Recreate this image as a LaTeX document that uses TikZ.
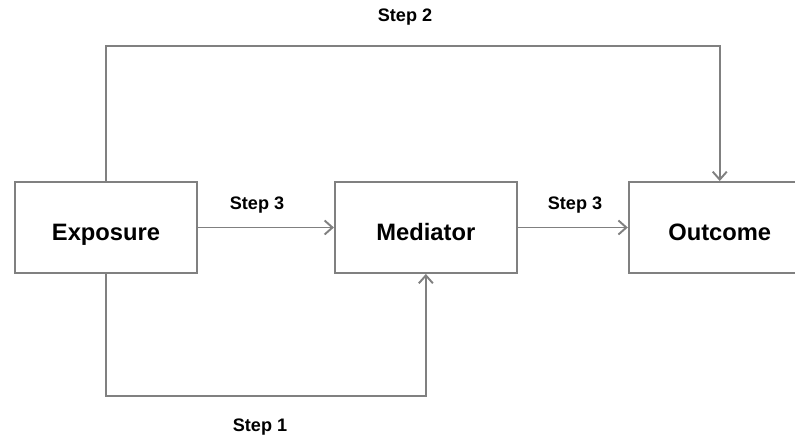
\documentclass[tikz,border=0pt]{standalone}
\usepackage{fontspec}
\setmainfont{Liberation Sans}
\usetikzlibrary{positioning,arrows.meta}

\definecolor{linegray}{HTML}{808080}

\begin{document}
\begin{tikzpicture}[x=0.02cm, y=-0.02cm,
    box/.style={draw=linegray, line width=1.1pt, minimum width=3.64cm, minimum height=1.82cm, inner sep=0pt, text height=14.8pt, text depth=0pt, font=\fontsize{13.5}{15}\selectfont\bfseries},
    steplabel/.style={font=\fontsize{10.3}{12}\selectfont\bfseries},
    link/.style={draw=linegray, line width=1.1pt, -{Straight Barb[length=4.5pt,width=8pt]}}]
    \clip (0,0) rectangle (795,438);
    \node (E) [box] at (106,227.5) {Exposure};
    \node (M) [box, right=2.72cm of E] {Mediator};
    \node (O) [box, right=2.20cm of M] {Outcome};
    % path corners
    \coordinate (top) at (405,46);
    \coordinate (bot) at (260,396);
    % step labels
    \node (s2) [steplabel] at (405,17) {Step 2};
    \node (s3a) [steplabel] at (257,205) {Step 3};
    \node (s3b) [steplabel] at (575,205) {Step 3};
    \node (s1) [steplabel] at (260,427) {Step 1};
    % connectors
    \draw[link] (E.north) |- (top) -| (O.north);
    \draw[link] (E.south) |- (bot) -| (M.south);
    \draw[link] (E) -- (M);
    \draw[link] (M) -- (O);
\end{tikzpicture}
\end{document}
